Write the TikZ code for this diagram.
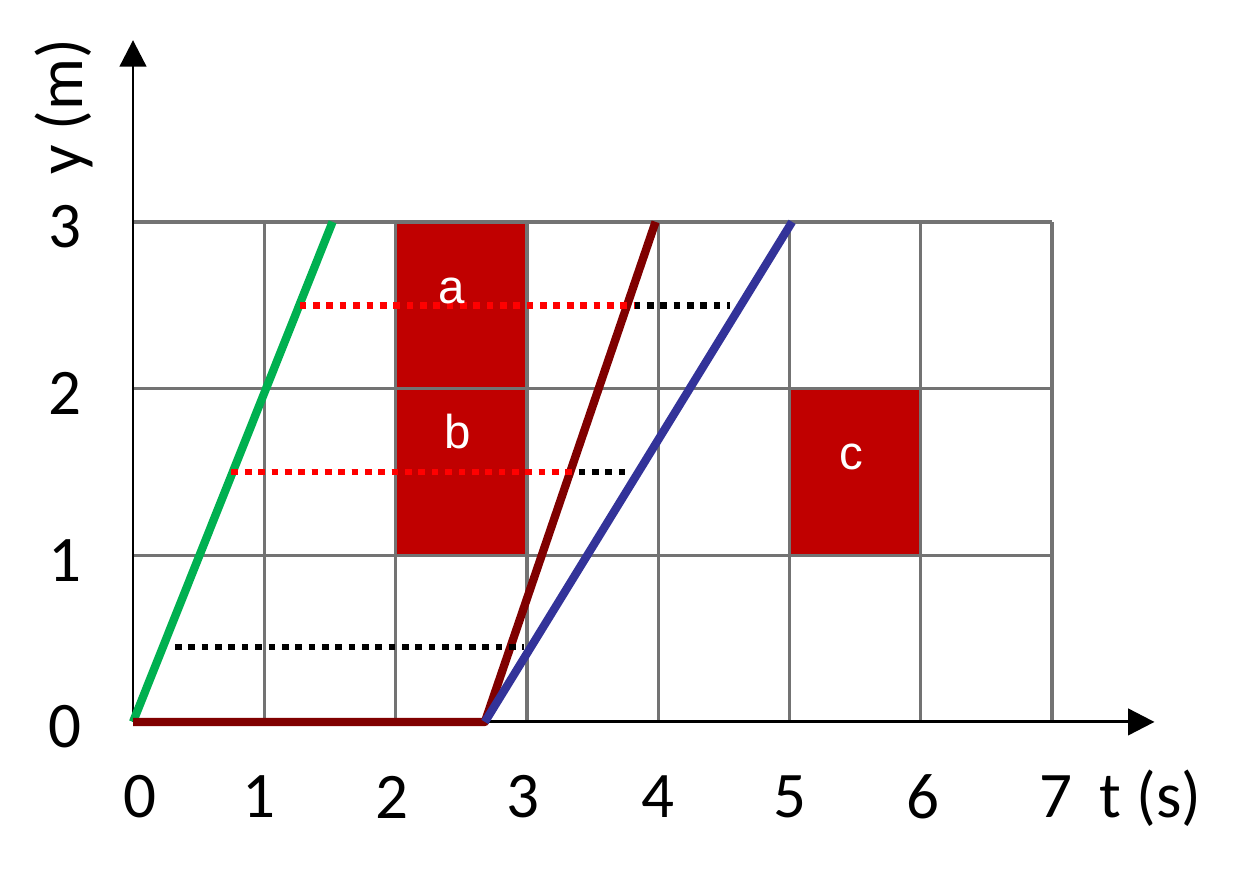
\documentclass[tikz,border=0pt]{standalone}
\usepackage{fontspec}
\setmainfont{Carlito}
\newfontfamily\boxfont{Liberation Sans}
\usetikzlibrary{arrows.meta}
\definecolor{gridgray}{HTML}{737373}
\definecolor{boxred}{HTML}{C00000}
\definecolor{walkgreen}{HTML}{00B050}
\definecolor{walkred}{HTML}{800000}
\definecolor{walkblue}{HTML}{333399}
\definecolor{dotred}{HTML}{FF0000}
\tikzset{
  gridline/.style={draw=gridgray,line width=1.9pt},
  axis/.style={line width=1.7pt,-{Triangle[width=15pt,length=15pt]}},
  motion/.style={line width=4.7pt},
  trace/.style={line width=3.8pt,dash pattern=on 3.8pt off 3.8pt},
  ticklbl/.style={font=\fontsize{37}{40}\selectfont,inner sep=0pt},
  boxlbl/.style={font=\boxfont\fontsize{27}{30}\selectfont,text=white,inner sep=0pt}
}
\begin{document}
\begin{tikzpicture}[x=2.626cm,y=3.334cm,line join=round]
\useasboundingbox (-1.013,-0.912) rectangle (8.439,4.331);
\coordinate (O) at (0,0);\coordinate (S) at (2.68,0);
\coordinate (G) at (1.52,3);\coordinate (R) at (3.98,3);\coordinate (B) at (5.02,3);
\coordinate (Y) at (0,4.09);\coordinate (T) at (7.78,0);
% blocked cells
\fill[boxred](2,2)rectangle(3,3)(2,1)rectangle(3,2)(5,1)rectangle(6,2);
\foreach \i in {1,...,7}\draw[gridline](\i,0)--(\i,3);
\foreach \j in {1,...,3}\draw[gridline](0,\j)--(7,\j);
\draw[axis](O)--(Y);\draw[axis](O)--(T);
% runners
\draw[motion,walkgreen](O)--(G);
\draw[motion,walkred](O)--(S)--(R);
\draw[motion,walkblue](S)--(B);
% level lines
\draw[trace,black](1.27,2.5)--(4.55,2.5)(0.75,1.5)--(3.75,1.5)(0.32,0.45)--(2.98,0.45);
\draw[trace,dotred](1.27,2.5)--(3.82,2.5)(0.75,1.5)--(3.34,1.5);
\node[boxlbl](la)at(2.43,2.585){a};
\node[boxlbl](lb)at(2.475,1.74){b};
\node[boxlbl](lc)at(5.47,1.59){c};
\foreach \i/\dx in {0/0.05,1/-0.04,2/-0.03,3/-0.03,4/0,5/0,6/0.02,7/0.03}
  \node[ticklbl](tx\i)at(\i+\dx,-0.45){\i};
\foreach \i in {0,...,3}\node[ticklbl](ty\i)at(-0.52,\i-0.03){\i};
\node[ticklbl,anchor=base](tl)at(7.75,-0.576){t (s)};
\node[ticklbl,rotate=90](yl)at(-0.525,3.69){y (m)};
\end{tikzpicture}
\end{document}
